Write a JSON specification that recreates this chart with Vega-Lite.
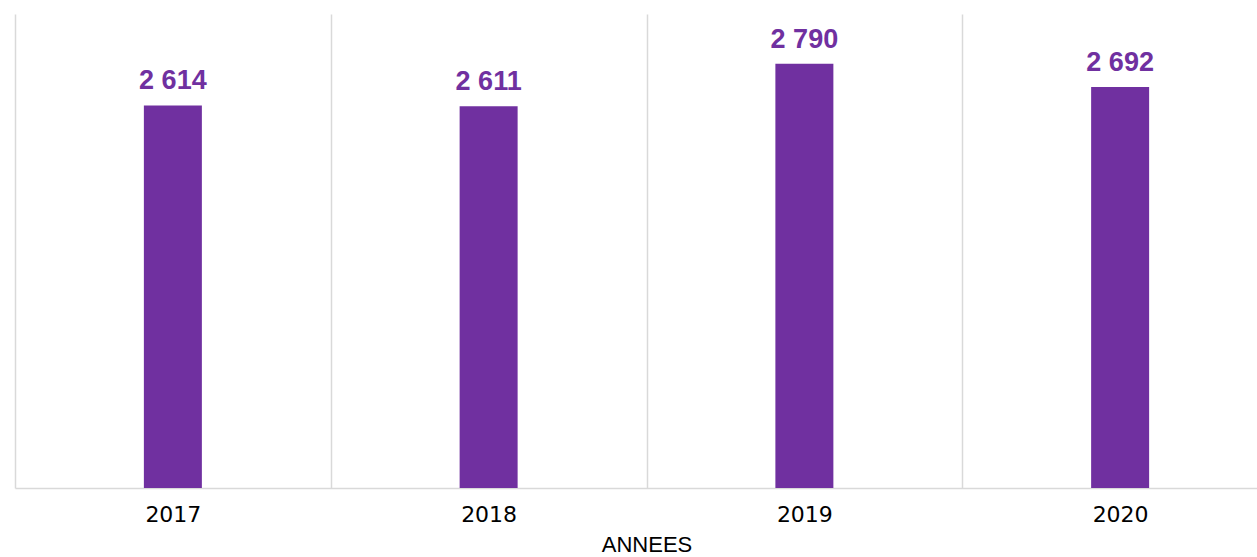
{
  "$schema": "https://vega.github.io/schema/vega-lite/v6.json",
  "autosize": {"type": "none"},
  "width": 1242,
  "height": 474,
  "padding": {"left": 15, "top": 14, "right": 0, "bottom": 69},
  "background": "white",
  "config": {
    "view": {"stroke": null},
    "locale": {"number": {"decimal": ",", "thousands": " ", "grouping": [3], "currency": ["", " €"]}}
  },
  "data": {
    "values": [
      {"annee": "2017", "valeur": 2614},
      {"annee": "2018", "valeur": 2611},
      {"annee": "2019", "valeur": 2790},
      {"annee": "2020", "valeur": 2692}
    ]
  },
  "encoding": {
    "x": {
      "field": "annee",
      "type": "nominal",
      "sort": null,
      "scale": {"range": [0, 1263], "paddingInner": 0, "paddingOuter": 0},
      "axis": {
        "title": "ANNEES",
        "titleFont": "Liberation Sans",
        "titleFontSize": 22,
        "titleFontWeight": "normal",
        "titleColor": "#000000",
        "titleX": 631.5,
        "titleY": 63,
        "titleBaseline": "alphabetic",
        "labelAngle": 0,
        "labelFont": "DejaVu Sans",
        "labelFontSize": 22,
        "labelColor": "#000000",
        "labelPadding": 16,
        "ticks": false,
        "tickBand": "extent",
        "grid": true,
        "gridColor": "#d9d9d9",
        "gridWidth": 1.5,
        "domainColor": "#d9d9d9",
        "domainWidth": 1.5
      }
    },
    "y": {
      "field": "valeur",
      "type": "quantitative",
      "scale": {"domain": [1000, 3000], "zero": false},
      "axis": null
    }
  },
  "layer": [
    {
      "mark": {"type": "bar", "size": 58, "color": "#7030a0"},
      "encoding": {"y2": {"datum": 1000}}
    },
    {
      "mark": {
        "type": "text",
        "baseline": "alphabetic",
        "dy": -16,
        "font": "Liberation Sans",
        "fontSize": 27,
        "fontWeight": "bold",
        "color": "#7030a0"
      },
      "encoding": {"text": {"field": "valeur", "type": "quantitative", "format": ",d"}}
    }
  ]
}
